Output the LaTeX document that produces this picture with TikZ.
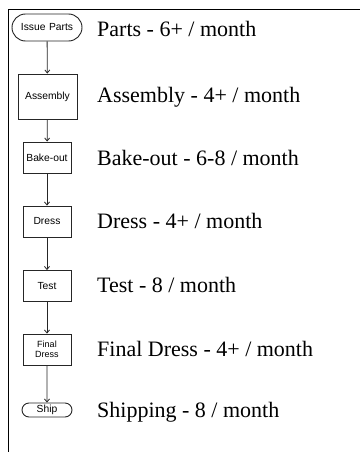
\documentclass[tikz,border=0pt]{standalone}
\usepackage{fontspec}
\setmainfont{Liberation Serif}
\newfontfamily\arialf{Liberation Sans}
\usetikzlibrary{shapes.misc,arrows.meta}
\begin{document}
\begin{tikzpicture}[x=1pt,y=-1pt,
  boxline/.style={draw=black!85,line width=0.9pt,inner sep=0pt,font=\arialf\fontsize{10.3}{11}\selectfont,align=center},
  procbox/.style={boxline,rectangle,minimum width=48pt,minimum height=31pt},
  termbox/.style={boxline,rounded rectangle},
  flow/.style={draw=black!85,line width=0.8pt,-{Straight Barb[length=3pt,width=5pt]}},
  rate/.style={anchor=base west,inner sep=0pt,font=\fontsize{22}{24}\selectfont},
  frameline/.style={draw=black,line width=1pt}]
\useasboundingbox (0,0) rectangle (360,452);
\coordinate (fa) at (8,452);
\coordinate (fb) at (8,10);
\coordinate (fc) at (360,10);
\draw[frameline] (fa) -- (fb) -- (fc);

\node[termbox,minimum width=70pt,minimum height=27pt] (issue) at (47,27.5) {Issue\,\,Parts};
\node[procbox,minimum width=59pt,minimum height=45pt] (assy) at (47.5,96.5) {Assembly};
\node[procbox] (bake) at (47,157.5) {Bake-out};
\node[procbox] (dress) at (47,221.5) {Dress};
\node[procbox] (test) at (47,286) {Test};
\node[procbox,font=\arialf\fontsize{9}{10.5}\selectfont] (fdress) at (47,349.5) {Final\\Dress};
\node[termbox,minimum width=50pt,minimum height=14pt] (ship) at (47,410) {Ship};

\draw[flow] (issue) -- (assy);
\draw[flow] (assy) -- (bake);
\draw[flow] (bake) -- (dress);
\draw[flow] (dress) -- (test);
\draw[flow] (test) -- (fdress);
\draw[flow] (fdress) -- (ship);

\node[rate] (t1) at (97,37) {Parts - 6+ / month};
\node[rate] (t2) at (97,102) {Assembly - 4+ / month};
\node[rate] (t3) at (97,165) {Bake-out - 6-8 / month};
\node[rate] (t4) at (97,228.5) {Dress - 4+ / month};
\node[rate] (t5) at (97,292) {Test - 8 / month};
\node[rate] (t6) at (97,356) {Final Dress - 4+ / month};
\node[rate] (t7) at (97,417) {Shipping - 8 / month};
\end{tikzpicture}
\end{document}
